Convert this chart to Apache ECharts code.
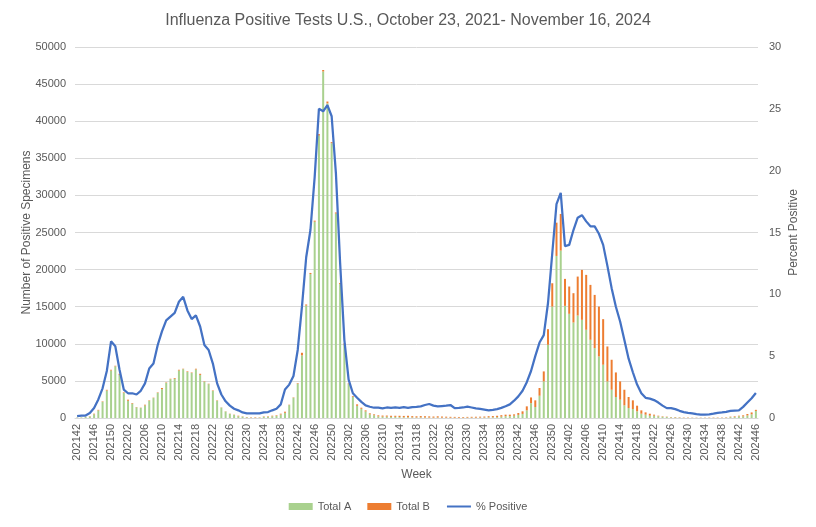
<!DOCTYPE html>
<html>
<head>
<meta charset="utf-8">
<script src="https://cdn.jsdelivr.net/npm/echarts@6/dist/echarts.min.js"></script>
<style>html,body{margin:0;padding:0;background:#fff;}#c{width:816px;height:527px;}</style>
</head>
<body>
<div id="c"></div>
<script>
var weeks = [
'202142','202143','202144','202145','202146','202147','202148','202149','202150','202151','202152',
'202201','202202','202203','202204','202205','202206','202207','202208','202209','202210','202211','202212','202213','202214','202215','202216','202217','202218','202219','202220','202221','202222','202223','202224','202225','202226','202227','202228','202229','202230','202231','202232','202233','202234','202235','202236','202237','202238','202239','202240','202241','202242','202243','202244','202245','202246','202247','202248','202249','202250','202251','202252',
'202301','202302','202303','202304','202305','202306','202307','202308','202309','202310','202311','202312','202313','202314','202315','202316','202317','201318','202319','202320','202321','202322','202323','202324','202325','202326','202327','202328','202329','202330','202331','202332','202333','202334','202335','202336','202337','202338','202339','202340','202341','202342','202343','202344','202345','202346','202347','202348','202349','202350','202351','202352',
'202401','202402','202403','202404','202405','202406','202407','202408','202409','202410','202411','202412','202413','202414','202415','202416','202417','202418','202419','202420','202421','202422','202423','202424','202425','202426','202427','202428','202429','202430','202431','202432','202433','202434','202435','202436','202437','202438','202439','202440','202441','202442','202443','202444','202445','202446'
];
var totalA = [
50,70,130,180,500,1020,2180,3700,6400,6960,5810,
3370,2320,1940,1440,1350,1690,2320,2690,3390,3890,4740,5230,5280,6400,6580,6200,6080,6540,5810,4870,4560,3660,2330,1400,870,540,410,230,180,90,40,30,50,170,160,230,280,480,700,1740,2730,4620,8440,15150,19400,26450,38060,46700,42400,37030,27550,18050,
9900,4560,2860,1640,1240,880,480,370,210,180,180,150,150,120,100,100,80,70,80,70,60,50,60,50,50,40,40,40,40,50,50,50,60,70,90,100,120,180,250,250,310,420,550,1030,2000,1480,3000,4930,9870,15020,21840,22560,
15110,14040,12870,13810,13230,11890,10540,9420,8300,7180,4930,3810,2830,2470,1700,1350,1210,900,580,450,310,310,230,160,130,90,80,60,20,20,20,20,20,20,20,20,20,20,40,120,120,230,210,340,500,950
];
var totalB = [
10,10,20,50,80,80,60,100,100,80,150,
80,150,80,40,40,100,60,50,60,150,60,60,100,100,60,80,60,100,150,60,60,60,50,30,30,40,40,80,40,40,50,60,40,50,60,80,80,100,150,50,50,80,350,150,150,150,200,200,250,150,150,150,
150,100,100,200,150,150,150,120,150,150,150,150,150,180,180,200,170,160,180,170,160,150,170,150,130,120,110,100,90,100,110,120,120,130,150,160,180,200,200,200,180,250,350,540,770,900,1040,1350,2100,3140,4490,4940,
3640,3680,3950,5250,6730,7400,7400,7170,6720,6140,4710,4040,3310,2460,2110,1480,1170,760,450,310,270,140,80,60,50,40,50,40,40,40,30,30,30,30,40,40,40,40,50,60,100,80,150,200,250,150
];
var pctPositive = [
0.15,0.2,0.2,0.4,0.8,1.5,2.4,3.8,6.2,5.8,3.9,
2.3,2.0,2.0,1.9,2.2,2.8,4.0,4.4,5.9,7.0,7.9,8.2,8.5,9.4,9.8,8.7,8.0,8.3,7.4,5.9,5.5,4.4,2.8,1.9,1.35,1.0,0.75,0.62,0.45,0.38,0.37,0.37,0.37,0.46,0.48,0.62,0.75,1.1,2.3,2.7,3.4,5.5,9.0,13.0,15.2,19.5,25.0,24.8,25.3,24.4,19.8,12.5,
6.3,3.1,2.0,1.64,1.3,1.02,0.91,0.83,0.83,0.78,0.85,0.82,0.85,0.82,0.88,0.82,0.88,0.9,0.94,1.05,1.13,1.0,0.94,0.97,1.0,1.05,0.8,0.82,0.85,0.92,0.85,0.78,0.73,0.68,0.62,0.66,0.72,0.82,0.95,1.1,1.4,1.75,2.2,2.9,3.8,5.0,6.1,6.7,9.3,13.3,17.3,18.2,
13.9,14.0,15.2,16.2,16.4,15.9,15.5,15.5,14.9,14.0,12.3,10.5,9.0,7.8,6.3,4.8,3.7,2.7,2.0,1.63,1.57,1.45,1.25,1.0,0.8,0.8,0.72,0.58,0.48,0.42,0.38,0.32,0.28,0.28,0.3,0.35,0.42,0.45,0.5,0.58,0.6,0.62,0.9,1.25,1.6,2.02
];
var leftTicks = {min: 0, max: 50000, interval: 5000};
var rightTicks = {min: 0, max: 30, interval: 5};

var FONT = 'Liberation Sans';
var TXT = '#595959';
var chart = echarts.init(document.getElementById('c'), null, {renderer: 'canvas'});
chart.setOption({
  animation: false,
  textStyle: {fontFamily: FONT},
  title: {
    text: 'Influenza Positive Tests U.S., October 23, 2021- November 16, 2024',
    left: 'center', top: 8,
    textStyle: {fontFamily: FONT, fontSize: 16, fontWeight: 'normal', color: TXT}
  },
  legend: {
    bottom: 10, left: 'center', itemGap: 16, itemWidth: 24, itemHeight: 7,
    textStyle: {fontFamily: FONT, fontSize: 11, color: TXT},
    data: [
      {name: 'Total A', icon: 'rect'},
      {name: 'Total B', icon: 'rect'},
      {name: '% Positive', itemStyle: {opacity: 0}}
    ]
  },
  grid: {left: 75, right: 58, top: 47, bottom: 109},
  xAxis: {
    type: 'category', data: weeks, boundaryGap: true,
    axisLine: {lineStyle: {color: '#d9d9d9', width: 1}},
    axisTick: {show: false},
    axisLabel: {rotate: 90, interval: 3, fontSize: 11, color: TXT, margin: 6, fontFamily: FONT},
    name: 'Week', nameLocation: 'middle', nameGap: 48,
    nameTextStyle: {fontFamily: FONT, fontSize: 12, color: TXT}
  },
  yAxis: [{
    type: 'value', min: leftTicks.min, max: leftTicks.max, interval: leftTicks.interval,
    axisLine: {show: false}, axisTick: {show: false},
    axisLabel: {fontSize: 11, color: TXT, margin: 9, fontFamily: FONT, formatter: function (v) { return String(v); }},
    splitLine: {lineStyle: {color: '#d9d9d9', width: 1}},
    name: 'Number of Positive Specimens', nameLocation: 'middle', nameGap: 42, nameRotate: 90,
    nameMoveOverlap: false,
    nameTextStyle: {fontFamily: FONT, fontSize: 12, color: TXT}
  }, {
    type: 'value', min: rightTicks.min, max: rightTicks.max, interval: rightTicks.interval,
    position: 'right',
    axisLine: {show: false}, axisTick: {show: false},
    axisLabel: {fontSize: 11, color: TXT, margin: 11, fontFamily: FONT},
    splitLine: {show: false},
    name: 'Percent Positive', nameLocation: 'middle', nameGap: 30, nameRotate: 90,
    nameMoveOverlap: false,
    nameTextStyle: {fontFamily: FONT, fontSize: 12, color: TXT}
  }],
  series: [{
    name: 'Total A', type: 'bar', stack: 'tot', data: totalA, barWidth: 2,
    itemStyle: {color: '#a9d18e'}
  }, {
    name: 'Total B', type: 'bar', stack: 'tot', data: totalB, barWidth: 2,
    itemStyle: {color: '#ed7d31'}
  }, {
    name: '% Positive', type: 'line', yAxisIndex: 1, data: pctPositive,
    symbol: 'none', showSymbol: false,
    lineStyle: {color: '#4472c4', width: 2.25},
    itemStyle: {color: '#4472c4'}
  }]
});
</script>
</body>
</html>
